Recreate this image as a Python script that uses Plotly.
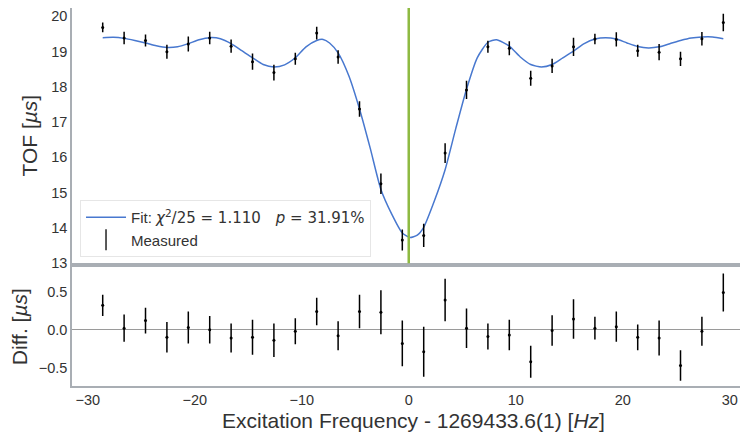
import plotly.graph_objects as go

# ---- data ----
freq = [-28.6, -26.6, -24.6, -22.6, -20.6, -18.6, -16.6, -14.6, -12.6, -10.6,
        -8.6, -6.6, -4.6, -2.6, -0.6, 1.4, 3.4, 5.4, 7.4, 9.4,
        11.4, 13.4, 15.4, 17.4, 19.4, 21.4, 23.4, 25.4, 27.4, 29.4]

tof = [19.68, 19.38, 19.31, 18.99, 19.21, 19.38, 19.15, 18.71, 18.40, 18.79,
       19.52, 18.84, 17.37, 15.25, 13.66, 13.79, 16.12, 17.91, 19.13, 19.09,
       18.24, 18.59, 19.13, 19.35, 19.34, 19.02, 18.98, 18.79, 19.36, 19.82]

tof_err = [0.14, 0.18, 0.17, 0.20, 0.21, 0.18, 0.19, 0.23, 0.22, 0.17,
           0.18, 0.19, 0.22, 0.29, 0.30, 0.33, 0.28, 0.26, 0.17, 0.20,
           0.21, 0.20, 0.26, 0.15, 0.20, 0.17, 0.23, 0.20, 0.19, 0.25]

residual = [0.32, 0.02, 0.12, -0.10, 0.03, 0.00, -0.11, -0.10, -0.14, -0.02,
            0.24, -0.08, 0.24, 0.23, -0.18, -0.29, 0.39, 0.02, -0.09, -0.07,
            -0.42, -0.01, 0.14, 0.02, 0.04, -0.10, -0.11, -0.47, -0.02, 0.49]

fit_x = [-28.6, -27.6, -26.6, -25.6, -24.6, -23.6, -22.6, -21.6, -20.6, -19.6,
         -18.6, -17.6, -16.6, -15.6, -14.6, -13.6, -12.6, -11.6, -10.6, -9.6,
         -8.6, -8.0, -7.4, -6.6, -5.6, -4.6, -3.6, -2.6, -1.6, -0.6,
         0.1, 0.8, 1.4, 2.4, 3.4, 4.4, 5.4, 6.4, 7.4, 8.2,
         9.4, 10.4, 11.4, 12.4, 13.4, 14.4, 15.4, 16.4, 17.4, 18.4,
         19.4, 20.4, 21.4, 22.4, 23.4, 24.4, 25.4, 26.4, 27.4, 28.4, 29.4]
fit_y = [19.39, 19.40, 19.37, 19.31, 19.24, 19.16, 19.11, 19.13, 19.22, 19.33,
         19.39, 19.36, 19.22, 19.02, 18.82, 18.63, 18.56, 18.62, 18.82, 19.13,
         19.31, 19.34, 19.24, 18.96, 18.31, 17.37, 16.26, 15.09, 14.40, 13.86,
         13.73, 13.80, 14.02, 14.77, 15.65, 16.82, 17.93, 18.82, 19.26, 19.33,
         19.15, 18.85, 18.63, 18.56, 18.63, 18.82, 19.01, 19.22, 19.35, 19.39,
         19.35, 19.24, 19.14, 19.10, 19.13, 19.22, 19.31, 19.38, 19.41, 19.41, 19.36]

resonance_center = 0.0

MATH = "DejaVu Sans"
fit_label = ("Fit: <span style=\"font-family:'" + MATH + "'\"><i>χ</i><sup>2</sup>/25 = 1.110"
             "\u2003<i>p</i> = 31.91%</span>")
meas_label = "Measured"
x_title = "Excitation Frequency - 1269433.6(1) [<i>Hz</i>]"

x_ticks = [-30, -20, -10, 0, 10, 20, 30]
tof_ticks = [13, 14, 15, 16, 17, 18, 19, 20]
diff_ticks = [-0.5, 0.0, 0.5]

# ---- styling ----
FONT = "Liberation Sans, Arial, sans-serif"
TXT = "#333333"
SPINE = "#a9aeb4"
FIT_COLOR = "#4878CF"
GREEN = "#8EBA42"

fig = go.Figure()

fig.add_trace(go.Scatter(
    x=fit_x, y=fit_y, mode="lines", line=dict(color=FIT_COLOR, width=1.5, shape="spline", smoothing=0.6),
    name=fit_label, xaxis="x", yaxis="y", legendgroup="a", hoverinfo="skip"))

fig.add_trace(go.Scatter(
    x=freq, y=tof, mode="markers",
    marker=dict(color="black", size=3),
    error_y=dict(type="data", array=tof_err, color="black", thickness=1.5, width=0),
    name=meas_label, showlegend=False, xaxis="x", yaxis="y"))

# legend-only entry for the measured points
fig.add_trace(go.Scatter(
    x=[None], y=[None], mode="markers",
    marker=dict(symbol="line-ns", size=15, color="black", line=dict(color="black", width=1.3)),
    name=meas_label, legendgroup="b", xaxis="x", yaxis="y"))

fig.add_trace(go.Scatter(
    x=freq, y=residual, mode="markers",
    marker=dict(color="black", size=3),
    error_y=dict(type="data", array=tof_err, color="black", thickness=1.5, width=0),
    showlegend=False, xaxis="x2", yaxis="y2"))

fig.add_shape(type="line", xref="x", yref="y domain",
              x0=resonance_center, x1=resonance_center, y0=0, y1=1,
              line=dict(color=GREEN, width=2.5), layer="above")

fig.add_annotation(text=x_title, xref="paper", yref="paper", x=0.5105, y=0.0283,
                   xanchor="center", yanchor="middle", showarrow=False,
                   font=dict(family=FONT, size=21, color=TXT))

x_range = [-31.47, 30.96]
axis_common = dict(showgrid=False, showline=True, linecolor=SPINE, linewidth=1.5,
                   ticks="", automargin=False, ticklabeloverflow="allow",
                   tickfont=dict(family=FONT, size=14.5, color=TXT))

fig.update_layout(
    width=732, height=424,
    margin=dict(l=64, r=0, t=0, b=0),
    paper_bgcolor="white", plot_bgcolor="white",
    font=dict(family=FONT, color=TXT),
    showlegend=True,
    legend=dict(x=0.012, y=0.5472, xanchor="left", yanchor="top",
                bgcolor="rgba(255,255,255,0.85)", bordercolor="#e6e6e6", borderwidth=1,
                font=dict(family=FONT, size=15, color=TXT), itemwidth=40,
                traceorder="grouped", tracegroupgap=0),
    xaxis=dict(domain=[0, 1], range=x_range, anchor="y", showticklabels=False,
               tickvals=x_ticks, zeroline=False, **axis_common),
    yaxis=dict(domain=[0.3979, 1], range=[13, 20.23], anchor="x", tickvals=tof_ticks,
               zeroline=False,
               title=dict(text="TOF [<i>µs</i>]", font=dict(family=FONT, size=21, color=TXT), standoff=8),
               **axis_common),
    xaxis2=dict(domain=[0, 1], range=x_range, anchor="y2", tickvals=x_ticks, mirror=True,
                zeroline=False, **axis_common),
    yaxis2=dict(domain=[0.1085, 0.3884], range=[-0.74, 0.82], anchor="x2", tickvals=diff_ticks,
                tickformat=".1f", zeroline=True, zerolinecolor="#9a9a9a", zerolinewidth=1.3,
                title=dict(text="Diff. [<i>µs</i>]", font=dict(family=FONT, size=21, color=TXT), standoff=8),
                **axis_common),
)

fig.write_html("out.html")
